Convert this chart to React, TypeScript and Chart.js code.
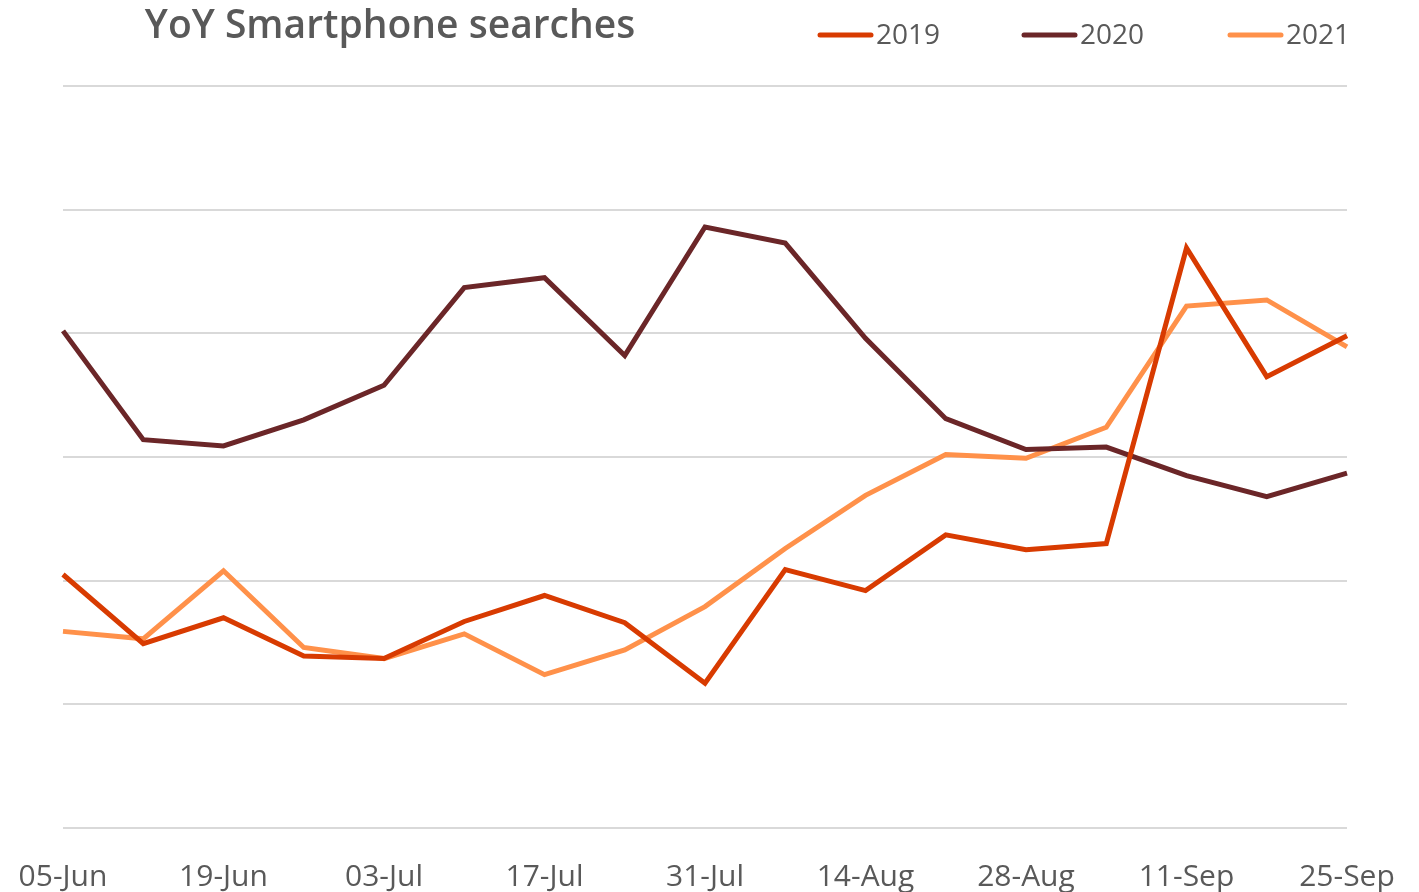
import { useEffect, useRef } from "react";
import { Chart, registerables } from "chart.js";

Chart.register(...registerables);

const categories = [
  "05-Jun", "12-Jun", "19-Jun", "26-Jun", "03-Jul", "10-Jul", "17-Jul", "24-Jul",
  "31-Jul", "07-Aug", "14-Aug", "21-Aug", "28-Aug", "04-Sep", "11-Sep", "18-Sep", "25-Sep",
];

const series2019 = [2.05, 1.49, 1.70, 1.39, 1.37, 1.67, 1.88, 1.66, 1.17, 2.09, 1.92, 2.37, 2.25, 2.30, 4.69, 3.65, 3.98];
const series2020 = [4.02, 3.14, 3.09, 3.30, 3.58, 4.37, 4.45, 3.82, 4.86, 4.73, 3.96, 3.31, 3.06, 3.08, 2.85, 2.68, 2.87];
const series2021 = [1.59, 1.53, 2.08, 1.46, 1.37, 1.57, 1.24, 1.44, 1.79, 2.26, 2.69, 3.02, 2.99, 3.24, 4.22, 4.27, 3.89];

const seriesNames = ["2019", "2020", "2021"];
const seriesColors = ["#D83B01", "#6B2628", "#FF914A"];

const titleText = "YoY Smartphone searches";
const FONT = "'Open Sans', 'Noto Sans', sans-serif";
const TEXT_COLOR = "#595959";

const headerPlugin = {
  id: "header",
  afterDraw(chart: any) {
    const ctx = chart.ctx;
    ctx.save();
    ctx.fillStyle = TEXT_COLOR;
    ctx.font = `600 39px ${FONT}`;
    ctx.textAlign = "center";
    ctx.textBaseline = "middle";
    ctx.fillText(titleText, 390, 27);

    const legendStarts = [818, 1022, 1228];
    chart.data.datasets.forEach((ds: any, i: number) => {
      const x = legendStarts[i];
      const y = 35;
      ctx.strokeStyle = ds.borderColor;
      ctx.lineWidth = 5;
      ctx.lineCap = "round";
      ctx.beginPath();
      ctx.moveTo(x + 2, y);
      ctx.lineTo(x + 53, y);
      ctx.stroke();
      ctx.fillStyle = TEXT_COLOR;
      ctx.font = `28px ${FONT}`;
      ctx.textAlign = "left";
      ctx.textBaseline = "middle";
      ctx.fillText(ds.label, x + 58, y + 1);
    });
    ctx.restore();
  },
};

export default function App() {
  const canvasRef = useRef<HTMLCanvasElement | null>(null);

  useEffect(() => {
    if (!canvasRef.current) return;
    const chart = new Chart(canvasRef.current, {
      type: "line",
      data: {
        labels: categories,
        datasets: [series2019, series2020, series2021].map((data, i) => ({
          label: seriesNames[i],
          data,
          borderColor: seriesColors[i],
          backgroundColor: seriesColors[i],
          borderWidth: 5,
          pointRadius: 0,
          tension: 0,
          fill: false,
        })),
      },
      options: {
        animation: false,
        responsive: true,
        maintainAspectRatio: false,
        layout: { padding: { left: 63, right: 72, top: 86, bottom: 0 } },
        plugins: {
          legend: { display: false },
          title: { display: false },
          tooltip: { enabled: false },
        },
        scales: {
          x: {
            grid: { display: false, drawTicks: false },
            border: { display: false },
            afterFit: (scale: any) => {
              scale.height = 64;
              scale.paddingLeft = 0;
              scale.paddingRight = 0;
            },
            ticks: {
              autoSkip: false,
              maxRotation: 0,
              padding: 31,
              color: TEXT_COLOR,
              font: { family: FONT, size: 30 },
              callback: (_v: any, i: number) => (i % 2 === 0 ? categories[i] : null),
            },
          },
          y: {
            min: 0,
            max: 6,
            afterFit: (scale: any) => { scale.width = 0; },
            ticks: { display: false, stepSize: 1 },
            grid: { color: "#D9D9D9", lineWidth: 2, drawTicks: false },
            border: { display: false },
          },
        },
      },
      plugins: [headerPlugin],
    });
    return () => chart.destroy();
  }, []);

  return (
    <div style={{ position: "fixed", left: 0, top: 0, width: "1419px", height: "892px", background: "#fff" }}>
      <canvas ref={canvasRef} />
    </div>
  );
}
